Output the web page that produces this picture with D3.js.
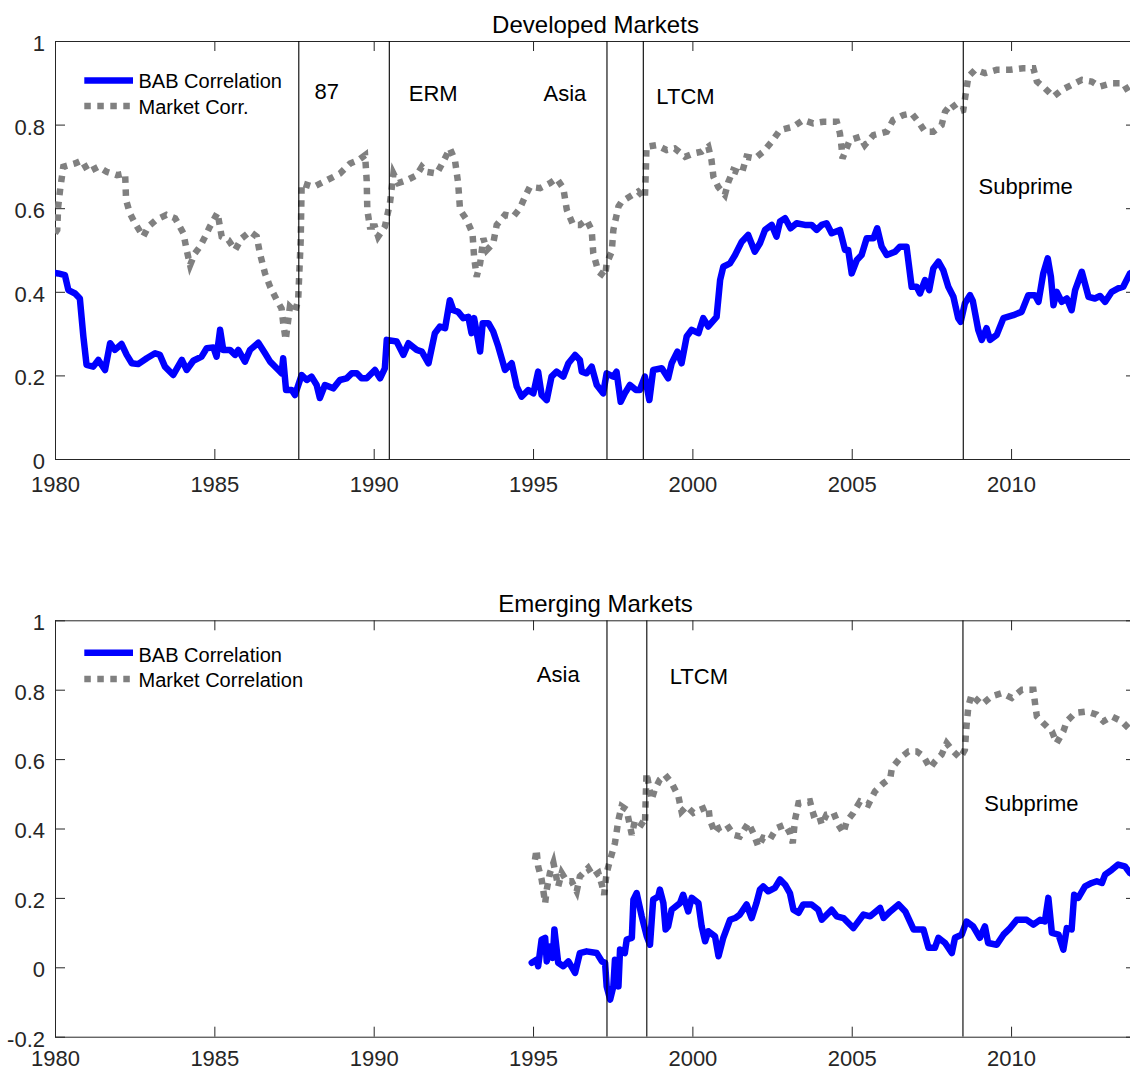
<!DOCTYPE html>
<html>
<head>
<meta charset="utf-8">
<script src="https://cdn.jsdelivr.net/npm/d3@7"></script>
<style>
  html, body { margin: 0; padding: 0; background: #fff; }
  svg { display: block; font-family: "Liberation Sans", Arial, Helvetica, sans-serif; }
</style>
</head>
<body>
<svg id="chart" width="1130" height="1071"></svg>
<script>
// ---- Data: rolling correlations, [year, correlation] ----
const devBab = [
  [1980.00,0.445],[1980.10,0.444],[1980.31,0.440],[1980.42,0.404],[1980.63,0.396],[1980.78,0.384],
  [1980.89,0.293],[1980.99,0.225],[1981.20,0.221],[1981.36,0.237],[1981.57,0.213],[1981.73,0.277],
  [1981.88,0.261],[1982.09,0.275],[1982.25,0.249],[1982.41,0.229],[1982.61,0.227],[1982.88,0.241],
  [1983.14,0.253],[1983.29,0.249],[1983.45,0.221],[1983.71,0.201],[1983.98,0.237],[1984.13,0.213],
  [1984.34,0.235],[1984.60,0.245],[1984.76,0.265],[1984.97,0.267],[1985.07,0.245],[1985.18,0.309],
  [1985.28,0.261],[1985.49,0.261],[1985.65,0.249],[1985.75,0.261],[1985.96,0.233],[1986.12,0.261],
  [1986.38,0.278],[1986.59,0.253],[1986.75,0.233],[1987.01,0.213],[1987.11,0.205],[1987.16,0.241],
  [1987.25,0.165],[1987.43,0.165],[1987.53,0.153],[1987.74,0.201],[1987.90,0.189],[1988.05,0.197],
  [1988.21,0.177],[1988.31,0.146],[1988.47,0.177],[1988.73,0.169],[1988.94,0.189],[1989.15,0.193],
  [1989.31,0.205],[1989.47,0.205],[1989.62,0.193],[1989.78,0.193],[1990.04,0.213],[1990.20,0.193],
  [1990.35,0.217],[1990.41,0.285],[1990.72,0.281],[1990.93,0.249],[1991.09,0.277],[1991.35,0.261],
  [1991.51,0.257],[1991.72,0.229],[1991.92,0.301],[1992.08,0.317],[1992.24,0.313],[1992.39,0.380],
  [1992.50,0.356],[1992.65,0.352],[1992.81,0.337],[1992.97,0.340],[1993.07,0.301],[1993.15,0.337],
  [1993.34,0.257],[1993.42,0.325],[1993.60,0.325],[1993.75,0.305],[1993.91,0.269],[1994.12,0.213],
  [1994.33,0.229],[1994.49,0.173],[1994.64,0.149],[1994.85,0.165],[1995.01,0.157],[1995.16,0.209],
  [1995.27,0.153],[1995.43,0.141],[1995.58,0.197],[1995.74,0.209],[1995.95,0.197],[1996.11,0.229],
  [1996.32,0.249],[1996.47,0.237],[1996.53,0.209],[1996.68,0.205],[1996.84,0.221],[1997.00,0.177],
  [1997.20,0.157],[1997.31,0.205],[1997.52,0.197],[1997.62,0.209],[1997.75,0.137],[1997.88,0.157],
  [1998.04,0.177],[1998.23,0.165],[1998.35,0.165],[1998.51,0.197],[1998.65,0.141],[1998.77,0.213],
  [1999.04,0.217],[1999.24,0.193],[1999.35,0.229],[1999.53,0.257],[1999.66,0.229],[1999.82,0.293],
  [1999.98,0.309],[2000.19,0.301],[2000.34,0.337],[2000.50,0.317],[2000.76,0.340],[2000.87,0.428],
  [2000.97,0.460],[2001.18,0.468],[2001.34,0.488],[2001.55,0.520],[2001.75,0.536],[2001.96,0.496],
  [2002.12,0.516],[2002.28,0.548],[2002.49,0.560],[2002.64,0.532],[2002.75,0.568],[2002.91,0.576],
  [2003.08,0.552],[2003.27,0.564],[2003.53,0.560],[2003.74,0.560],[2003.90,0.548],[2004.06,0.560],
  [2004.21,0.564],[2004.37,0.540],[2004.63,0.548],[2004.79,0.500],[2004.89,0.500],[2005.00,0.444],
  [2005.16,0.476],[2005.31,0.488],[2005.47,0.528],[2005.68,0.528],[2005.80,0.552],[2005.94,0.508],
  [2006.10,0.488],[2006.36,0.496],[2006.51,0.508],[2006.72,0.508],[2006.88,0.412],[2007.04,0.412],
  [2007.14,0.396],[2007.30,0.428],[2007.43,0.404],[2007.56,0.456],[2007.72,0.472],[2007.87,0.452],
  [2008.03,0.412],[2008.19,0.388],[2008.34,0.337],[2008.42,0.328],[2008.55,0.372],[2008.71,0.392],
  [2008.80,0.378],[2008.97,0.309],[2009.08,0.285],[2009.23,0.313],[2009.34,0.285],[2009.55,0.297],
  [2009.76,0.337],[2010.07,0.344],[2010.33,0.352],[2010.54,0.392],[2010.75,0.392],[2010.86,0.376],
  [2011.01,0.444],[2011.15,0.480],[2011.25,0.436],[2011.33,0.368],[2011.43,0.400],[2011.59,0.376],
  [2011.75,0.384],[2011.90,0.356],[2012.01,0.404],[2012.22,0.448],[2012.43,0.388],[2012.63,0.384],
  [2012.79,0.390],[2012.95,0.376],[2013.16,0.400],[2013.36,0.408],[2013.52,0.412],[2013.73,0.444],
  [2013.92,0.450]
];

const devMkt = [
  [1980.00,0.540],[1980.07,0.548],[1980.10,0.604],[1980.16,0.644],[1980.26,0.699],[1980.63,0.707],
  [1980.84,0.714],[1981.05,0.687],[1981.36,0.699],[1981.62,0.687],[1981.94,0.679],[1982.20,0.683],
  [1982.23,0.620],[1982.35,0.588],[1982.51,0.564],[1982.77,0.532],[1982.93,0.556],[1983.19,0.573],
  [1983.50,0.584],[1983.77,0.576],[1984.03,0.540],[1984.13,0.500],[1984.24,0.464],[1984.39,0.492],
  [1984.55,0.508],[1984.71,0.532],[1984.86,0.556],[1985.10,0.589],[1985.23,0.532],[1985.44,0.524],
  [1985.65,0.500],[1985.86,0.528],[1986.12,0.544],[1986.33,0.532],[1986.43,0.492],[1986.59,0.444],
  [1986.75,0.412],[1986.96,0.380],[1987.11,0.360],[1987.16,0.325],[1987.24,0.285],[1987.37,0.364],
  [1987.53,0.352],[1987.63,0.380],[1987.71,0.524],[1987.74,0.660],[1988.11,0.651],[1988.53,0.667],
  [1988.94,0.683],[1989.26,0.707],[1989.52,0.715],[1989.73,0.727],[1989.78,0.667],[1989.80,0.596],
  [1989.88,0.556],[1990.04,0.556],[1990.14,0.532],[1990.35,0.556],[1990.51,0.612],[1990.62,0.683],
  [1990.77,0.660],[1991.04,0.667],[1991.35,0.679],[1991.51,0.699],[1991.66,0.687],[1991.98,0.683],
  [1992.18,0.711],[1992.39,0.743],[1992.55,0.715],[1992.65,0.660],[1992.71,0.596],[1992.92,0.572],
  [1993.10,0.540],[1993.15,0.484],[1993.23,0.436],[1993.34,0.468],[1993.44,0.528],[1993.55,0.500],
  [1993.75,0.516],[1993.86,0.560],[1994.12,0.584],[1994.38,0.580],[1994.59,0.600],[1994.75,0.628],
  [1994.90,0.651],[1995.22,0.648],[1995.53,0.660],[1995.74,0.671],[1995.95,0.648],[1996.06,0.596],
  [1996.26,0.560],[1996.47,0.560],[1996.68,0.572],[1996.84,0.548],[1996.89,0.492],[1997.05,0.448],
  [1997.26,0.436],[1997.31,0.468],[1997.47,0.496],[1997.52,0.548],[1997.68,0.604],[1997.78,0.616],
  [1998.04,0.628],[1998.30,0.640],[1998.51,0.624],[1998.54,0.691],[1998.56,0.747],[1998.88,0.751],
  [1999.19,0.739],[1999.45,0.743],[1999.77,0.723],[2000.03,0.731],[2000.29,0.735],[2000.50,0.747],
  [2000.60,0.715],[2000.66,0.675],[2000.81,0.651],[2001.02,0.632],[2001.13,0.663],[2001.28,0.691],
  [2001.55,0.683],[2001.70,0.723],[2001.96,0.719],[2002.22,0.735],[2002.49,0.759],[2002.75,0.787],
  [2003.17,0.795],[2003.48,0.811],[2003.79,0.803],[2004.11,0.807],[2004.53,0.807],[2004.63,0.779],
  [2004.68,0.747],[2004.71,0.719],[2004.94,0.763],[2005.26,0.771],[2005.41,0.751],[2005.68,0.775],
  [2006.10,0.783],[2006.30,0.811],[2006.62,0.823],[2006.88,0.827],[2007.09,0.807],[2007.30,0.783],
  [2007.56,0.783],[2007.82,0.799],[2007.93,0.831],[2008.14,0.851],[2008.34,0.831],[2008.50,0.835],
  [2008.60,0.885],[2008.66,0.915],[2008.87,0.931],[2009.18,0.923],[2009.55,0.931],[2009.97,0.931],
  [2010.38,0.935],[2010.70,0.935],[2010.81,0.903],[2011.06,0.887],[2011.33,0.867],[2011.59,0.883],
  [2011.90,0.895],[2012.22,0.907],[2012.53,0.903],[2012.79,0.891],[2013.16,0.899],[2013.52,0.899],
  [2013.68,0.879],[2013.92,0.870]
];

const emBab = [
  [1994.96,0.013],[1995.11,0.022],[1995.16,0.003],[1995.27,0.080],[1995.38,0.085],[1995.43,0.017],
  [1995.53,0.060],[1995.62,0.027],[1995.67,0.109],[1995.79,0.013],[1995.95,0.003],[1996.11,0.017],
  [1996.32,-0.016],[1996.47,0.041],[1996.68,0.046],[1997.00,0.041],[1997.16,0.017],[1997.26,0.013],
  [1997.31,-0.055],[1997.42,-0.093],[1997.52,-0.055],[1997.57,0.022],[1997.68,-0.055],[1997.73,0.051],
  [1997.88,0.041],[1997.94,0.080],[1998.10,0.085],[1998.15,0.195],[1998.25,0.214],[1998.41,0.147],
  [1998.57,0.089],[1998.67,0.065],[1998.77,0.195],[1998.93,0.204],[1998.98,0.224],[1999.09,0.185],
  [1999.16,0.109],[1999.24,0.118],[1999.35,0.166],[1999.61,0.185],[1999.71,0.209],[1999.87,0.161],
  [1999.98,0.200],[2000.19,0.185],[2000.29,0.118],[2000.40,0.075],[2000.50,0.104],[2000.71,0.089],
  [2000.82,0.032],[2000.97,0.085],[2001.18,0.137],[2001.34,0.142],[2001.49,0.152],[2001.70,0.181],
  [2001.86,0.142],[2002.01,0.185],[2002.12,0.224],[2002.22,0.233],[2002.38,0.219],[2002.59,0.229],
  [2002.75,0.253],[2002.91,0.238],[2003.06,0.214],[2003.17,0.166],[2003.33,0.157],[2003.48,0.181],
  [2003.74,0.181],[2003.95,0.166],[2004.06,0.137],[2004.37,0.166],[2004.53,0.147],[2004.74,0.142],
  [2005.05,0.113],[2005.37,0.152],[2005.58,0.147],[2005.89,0.171],[2006.00,0.142],[2006.21,0.161],
  [2006.47,0.181],[2006.68,0.161],[2006.94,0.109],[2007.25,0.109],[2007.41,0.056],[2007.61,0.056],
  [2007.72,0.085],[2007.93,0.070],[2008.14,0.041],[2008.24,0.085],[2008.45,0.094],[2008.60,0.132],
  [2008.81,0.118],[2009.02,0.085],[2009.18,0.118],[2009.28,0.070],[2009.55,0.065],[2009.76,0.094],
  [2009.97,0.113],[2010.18,0.137],[2010.49,0.137],[2010.70,0.123],[2010.91,0.137],[2011.06,0.132],
  [2011.17,0.200],[2011.28,0.099],[2011.49,0.094],[2011.64,0.051],[2011.75,0.113],[2011.90,0.109],
  [2011.98,0.209],[2012.11,0.200],[2012.32,0.233],[2012.53,0.243],[2012.69,0.248],[2012.85,0.243],
  [2012.95,0.267],[2013.16,0.281],[2013.36,0.296],[2013.57,0.291],[2013.73,0.272],[2013.92,0.262]
];

const emMkt = [
  [1995.06,0.310],[1995.11,0.339],[1995.16,0.291],[1995.27,0.253],[1995.38,0.185],[1995.43,0.224],
  [1995.53,0.272],[1995.64,0.301],[1995.79,0.233],[1995.90,0.272],[1996.06,0.248],[1996.21,0.248],
  [1996.37,0.219],[1996.47,0.262],[1996.73,0.286],[1996.89,0.262],[1997.05,0.272],[1997.16,0.238],
  [1997.23,0.209],[1997.31,0.272],[1997.42,0.310],[1997.57,0.358],[1997.68,0.425],[1997.78,0.464],
  [1997.94,0.454],[1997.99,0.430],[1998.10,0.382],[1998.20,0.425],[1998.35,0.416],[1998.51,0.406],
  [1998.56,0.560],[1998.72,0.483],[1998.82,0.512],[1998.98,0.541],[1999.14,0.555],[1999.35,0.531],
  [1999.56,0.493],[1999.66,0.449],[1999.82,0.464],[2000.03,0.445],[2000.24,0.454],[2000.50,0.464],
  [2000.55,0.425],[2000.71,0.387],[2000.82,0.401],[2001.08,0.411],[2001.29,0.382],[2001.49,0.377],
  [2001.76,0.416],[2001.91,0.387],[2002.07,0.348],[2002.22,0.373],[2002.43,0.368],[2002.64,0.401],
  [2002.91,0.411],[2003.06,0.387],[2003.15,0.358],[2003.22,0.425],[2003.33,0.473],[2003.69,0.478],
  [2003.80,0.440],[2003.95,0.445],[2004.06,0.411],[2004.21,0.440],[2004.43,0.445],[2004.58,0.411],
  [2004.74,0.387],[2004.84,0.420],[2005.05,0.445],[2005.26,0.478],[2005.52,0.469],[2005.73,0.507],
  [2006.00,0.531],[2006.21,0.545],[2006.26,0.574],[2006.52,0.603],[2006.78,0.622],[2007.04,0.622],
  [2007.25,0.608],[2007.46,0.574],[2007.61,0.593],[2007.82,0.613],[2007.98,0.646],[2008.19,0.622],
  [2008.40,0.603],[2008.55,0.627],[2008.60,0.694],[2008.66,0.752],[2008.76,0.785],[2009.08,0.757],
  [2009.39,0.781],[2009.71,0.790],[2010.02,0.776],[2010.34,0.800],[2010.70,0.800],[2010.75,0.762],
  [2010.81,0.723],[2011.01,0.704],[2011.28,0.680],[2011.43,0.646],[2011.64,0.680],[2011.75,0.709],
  [2012.01,0.733],[2012.38,0.737],[2012.69,0.728],[2012.90,0.709],[2013.16,0.723],[2013.47,0.709],
  [2013.73,0.685],[2013.92,0.670]
];

// Crisis dates marked by vertical lines
const devEventNames = ["87", "ERM", "Asia", "LTCM", "Subprime"];
const devEventDates = [1987.65, 1990.49, 1997.32, 1998.46, 2008.50];
const emEventNames  = ["Asia", "LTCM", "Subprime"];
const emEventDates  = [1997.32, 1998.57, 2008.49];

// Axis ticks
const xTicks    = [1980, 1985, 1990, 1995, 2000, 2005, 2010];
const devYTicks = [0, 0.2, 0.4, 0.6, 0.8, 1];
const emYTicks  = [-0.2, 0, 0.2, 0.4, 0.6, 0.8, 1];

// ---- Layout ----
const FONT = '"Liberation Sans", Arial, Helvetica, sans-serif';
const AX_COLOR = "#262626";
const xDomain = [1980, 2013.92];
const plotLeft = 55, plotRight = 1136;

// plain number labels with an ASCII hyphen for negatives
const numLabel = d => {
  const v = +d.toFixed(1);
  return (v < 0 ? "-" : "") + String(Math.abs(v));
};

const panels = [
  {
    title: "Developed Markets",
    top: 41, bottom: 459, yDomain: [0, 1], yTicks: devYTicks, xPad: 17,
    bab: devBab, mkt: devMkt,
    eventNames: devEventNames, eventDates: devEventDates,
    // label anchors in data units (year, correlation) for each event name
    labelAt: [[1988.14, 0.861], [1991.10, 0.856], [1995.33, 0.857], [1998.87, 0.849], [2008.98, 0.634]],
    legendLabels: ["BAB Correlation", "Market Corr."],
    legendRows: [39.5, 65], legendTextDy: [7.6, 8]
  },
  {
    title: "Emerging Markets",
    top: 620.3, bottom: 1036.7, yDomain: [-0.2, 1], yTicks: emYTicks, xPad: 14,
    bab: emBab, mkt: emMkt,
    eventNames: emEventNames, eventDates: emEventDates,
    labelAt: [[1995.12, 0.823], [1999.29, 0.816], [2009.16, 0.451]],
    legendLabels: ["BAB Correlation", "Market Correlation"],
    legendRows: [32.4, 58.7], legendTextDy: [9, 7.7]
  }
];

const svg = d3.select("#chart");
const x = d3.scaleLinear().domain(xDomain).range([plotLeft, plotRight]);

panels.forEach((p, i) => {
  const y = d3.scaleLinear().domain(p.yDomain).range([p.bottom, p.top]);
  const g = svg.append("g");
  const clipId = "clip" + i;

  g.append("clipPath").attr("id", clipId)
    .append("rect")
    .attr("x", plotLeft).attr("y", p.top)
    .attr("width", plotRight - plotLeft).attr("height", p.bottom - p.top);

  // axes with inward ticks
  const styleAxis = sel => {
    sel.select(".domain").remove();
    sel.selectAll(".tick line").attr("stroke", AX_COLOR).attr("stroke-width", 1);
    sel.selectAll(".tick text")
      .attr("fill", AX_COLOR)
      .style("font-family", FONT)
      .style("font-size", "22px");
  };

  g.append("g").attr("transform", `translate(0,${p.bottom})`)
    .call(d3.axisBottom(x).tickValues(xTicks).tickFormat(d3.format("d"))
      .tickSize(-10).tickPadding(p.xPad))
    .call(styleAxis);
  g.append("g").attr("transform", `translate(0,${p.top})`)
    .call(d3.axisTop(x).tickValues(xTicks).tickFormat("").tickSize(-10))
    .call(styleAxis);
  g.append("g").attr("transform", `translate(${plotLeft},0)`)
    .call(d3.axisLeft(y).tickValues(p.yTicks).tickFormat(numLabel)
      .tickSize(-10).tickPadding(10))
    .call(styleAxis)
    .call(sel => sel.selectAll(".tick text").attr("dy", "0.43em"));
  g.append("g").attr("transform", `translate(${plotRight},0)`)
    .call(d3.axisRight(y).tickValues(p.yTicks).tickFormat("").tickSize(-10))
    .call(styleAxis);

  // axes box
  g.append("rect")
    .attr("x", plotLeft + 0.5).attr("y", p.top + 0.5)
    .attr("width", plotRight - plotLeft).attr("height", p.bottom - p.top)
    .attr("fill", "none").attr("stroke", AX_COLOR).attr("stroke-width", 1);

  const line = d3.line().x(d => x(d[0])).y(d => y(d[1]));
  const plot = g.append("g").attr("clip-path", `url(#${clipId})`);

  plot.append("path").datum(p.bab)
    .attr("d", line).attr("fill", "none")
    .attr("stroke", "#0000ff").attr("stroke-width", 6.5)
    .attr("stroke-linejoin", "round").attr("stroke-linecap", "round");

  plot.append("path").datum(p.mkt)
    .attr("d", line).attr("fill", "none")
    .attr("stroke", "#808080").attr("stroke-width", 6.5)
    .attr("stroke-dasharray", "6.5,6.5");

  // event lines
  plot.selectAll("line.event").data(p.eventDates).enter().append("line")
    .attr("class", "event")
    .attr("x1", d => x(d)).attr("x2", d => x(d))
    .attr("y1", p.top).attr("y2", p.bottom)
    .attr("stroke", "#000").attr("stroke-width", 1.1);

  // event labels
  g.selectAll("text.event").data(p.eventNames).enter().append("text")
    .attr("class", "event")
    .attr("x", (d, k) => x(p.labelAt[k][0]))
    .attr("y", (d, k) => y(p.labelAt[k][1]))
    .attr("fill", "#000")
    .style("font-family", FONT).style("font-size", "22px")
    .text(d => d);

  // title
  g.append("text")
    .attr("x", (plotLeft + plotRight) / 2).attr("y", p.top - 8)
    .attr("text-anchor", "middle").attr("fill", "#000")
    .style("font-family", FONT).style("font-size", "24px")
    .text(p.title);

  // legend
  const lg = g.append("g");
  const styles = [
    { stroke: "#0000ff", dash: null },
    { stroke: "#808080", dash: "6.5,6.5" }
  ];
  p.legendLabels.forEach((lab, k) => {
    const ly = p.top + p.legendRows[k];
    lg.append("line")
      .attr("x1", plotLeft + 29.3).attr("x2", plotLeft + (k === 0 ? 78 : 75))
      .attr("y1", ly).attr("y2", ly)
      .attr("stroke", styles[k].stroke).attr("stroke-width", 6.5)
      .attr("stroke-dasharray", styles[k].dash);
    lg.append("text")
      .attr("x", plotLeft + 83.5).attr("y", ly + p.legendTextDy[k])
      .attr("fill", "#000")
      .style("font-family", FONT).style("font-size", "20px")
      .text(lab);
  });
});
</script>
</body>
</html>
